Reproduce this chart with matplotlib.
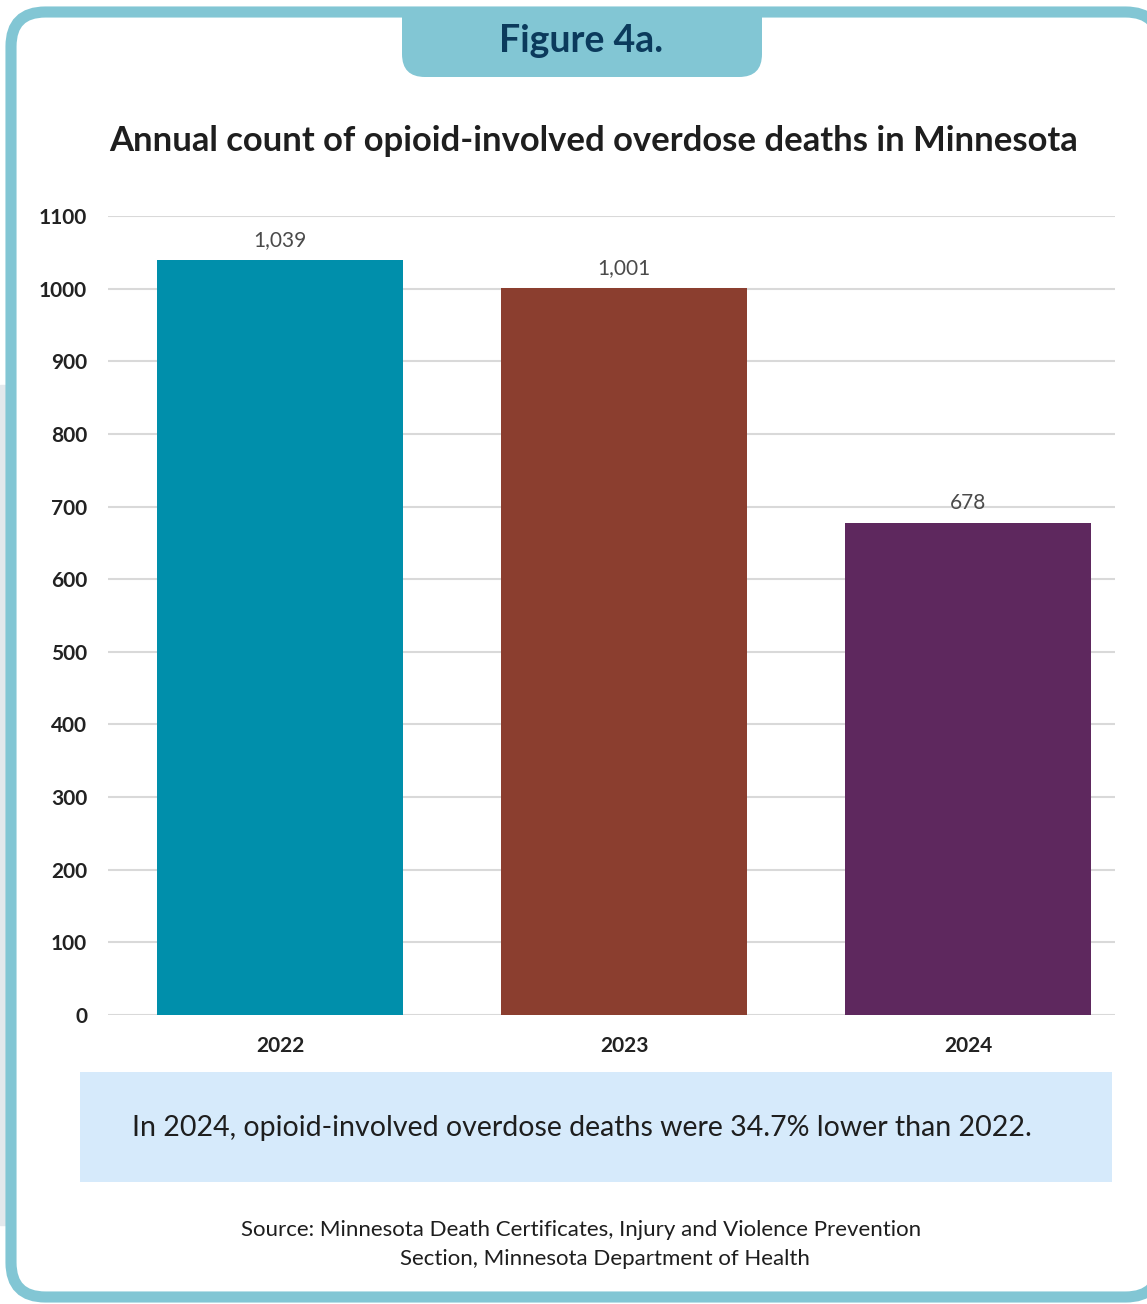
import matplotlib.pyplot as plt
from matplotlib.patches import FancyBboxPatch, Rectangle

years = ['2022', '2023', '2024']
deaths = [1039, 1001, 678]
bar_colors = ['#008FAB', '#8B3E2F', '#5E285E']
y_ticks = list(range(0, 1101, 100))

W, H = 1147, 1304
plt.rcParams['font.family'] = ['Lato', 'DejaVu Sans']

fig = plt.figure(figsize=(W / 100, H / 100), dpi=100)

def fx(px):
    return px / W

def fy(py):
    return 1 - py / H

frame_col = '#82C6D4'

# light strip on the left edge
fig.patches.append(Rectangle((0, fy(1225)), fx(5), (1225 - 385) / H,
                             transform=fig.transFigure, color='#E3E8EC', zorder=0))

# outer rounded frame
fig.patches.append(FancyBboxPatch((fx(11), fy(1297)), fx(1160 - 11), (1297 - 12) / H,
                                  boxstyle='round,pad=0,rounding_size=0.03',
                                  transform=fig.transFigure, facecolor='white',
                                  edgecolor=frame_col, linewidth=8, zorder=1,
                                  mutation_aspect=W / H))

# tab at the top
fig.patches.append(FancyBboxPatch((fx(402), fy(77)), fx(360), 70 / H,
                                  boxstyle='round,pad=0,rounding_size=0.02',
                                  transform=fig.transFigure, facecolor=frame_col,
                                  edgecolor='none', zorder=2, mutation_aspect=W / H))
fig.patches.append(Rectangle((fx(402), fy(45)), fx(360), 38 / H,
                             transform=fig.transFigure, facecolor=frame_col,
                             edgecolor='none', zorder=2))
fig.text(fx(581), fy(41), 'Figure 4a.', ha='center', va='center', fontsize=27,
         fontweight='bold', color='#0B3A5C', zorder=3)

fig.text(fx(594), fy(141), 'Annual count of opioid-involved overdose deaths in Minnesota',
         ha='center', va='center', fontsize=24.9, fontweight='bold', color='#1E1E1E', zorder=3)

# bar chart
ax = fig.add_axes([fx(108), fy(1015), fx(1115 - 108), (1015 - 216) / H], zorder=3)
ax.set_facecolor('none')
x = range(len(years))
bars = ax.bar(x, deaths, width=0.715, color=bar_colors, zorder=3)
ax.set_xlim(-0.5, 2.427)
ax.set_ylim(0, 1100)
ax.set_yticks(y_ticks)
ax.set_yticklabels([str(v) for v in y_ticks])
ax.set_xticks(list(x))
ax.set_xticklabels(years)
ax.grid(axis='y', color='#D9D9D9', linewidth=1.5, zorder=0)
ax.set_axisbelow(True)
for s in ax.spines.values():
    s.set_visible(False)
ax.tick_params(axis='both', length=0, labelsize=15, labelcolor='#222222')
ax.tick_params(axis='y', pad=15)
ax.tick_params(axis='x', pad=15)
for lab in ax.get_xticklabels() + ax.get_yticklabels():
    lab.set_fontweight('bold')

for b, v in zip(bars, deaths):
    ax.annotate(f'{v:,}', (b.get_x() + b.get_width() / 2, v), xytext=(0, 7),
                textcoords='offset points', ha='center', va='bottom',
                fontsize=15, color='#4A4A4A')

# callout box
fig.patches.append(Rectangle((fx(80), fy(1182)), fx(1112 - 80), 110 / H,
                             transform=fig.transFigure, facecolor='#D6EAFB',
                             edgecolor='none', zorder=2))
fig.text(fx(582), fy(1128), 'In 2024, opioid-involved overdose deaths were 34.7% lower than 2022.',
         ha='center', va='center', fontsize=20.5, color='#1E1E1E', zorder=3)

fig.text(fx(581), fy(1230), 'Source: Minnesota Death Certificates, Injury and Violence Prevention',
         ha='center', va='center', fontsize=16, color='#1E1E1E', zorder=3)
fig.text(fx(605), fy(1259), 'Section, Minnesota Department of Health',
         ha='center', va='center', fontsize=16, color='#1E1E1E', zorder=3)

fig.savefig('out.png', dpi=100)
